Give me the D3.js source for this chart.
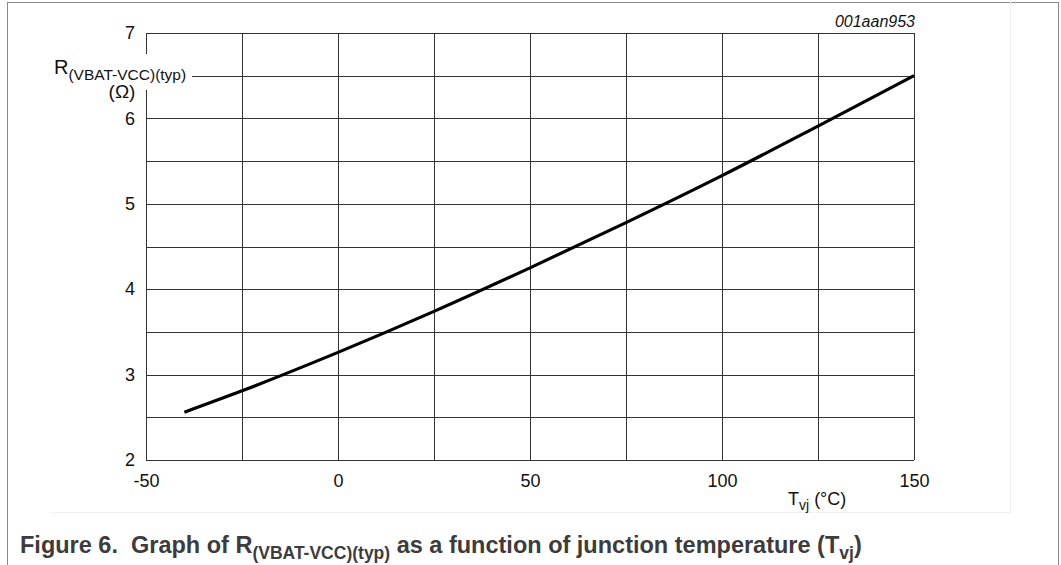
<!DOCTYPE html>
<html>
<head>
<meta charset="utf-8">
<script src="https://cdn.jsdelivr.net/npm/d3@7"></script>
<style>
  body { margin: 0; background: #fff; }
  svg { display: block; font-family: "Liberation Sans", Arial, sans-serif; }
</style>
</head>
<body>
<svg width="1061" height="565"></svg>
<script>
// junction temperature (°C) and typical resistance (Ω)
const temps = [-40, -25, 0, 25, 50, 75, 100, 125, 150];
const resist = [2.56, 2.81, 3.26, 3.74, 4.25, 4.78, 5.33, 5.91, 6.5];

const xTicks = [-50, 0, 50, 100, 150];
const yTicks = [2, 3, 4, 5, 6, 7];
const xGrid = d3.range(-50, 151, 25);
const yGrid = d3.range(2, 7.01, 0.5);

const svg = d3.select('svg');

// outer frame
svg.append('rect')
  .attr('x', 7.5).attr('y', 2.5)
  .attr('width', 1051).attr('height', 570)
  .attr('fill', 'none').attr('stroke', '#8a8a8a');

// faint edge of the figure image
svg.append('path')
  .attr('d', 'M50,512.5H1010.5V0')
  .attr('fill', 'none').attr('stroke', '#f1f1f1');

const x = d3.scaleLinear().domain([-50, 150]).range([146, 914]);
const y = d3.scaleLinear().domain([2, 7]).range([460, 33]);

const g = svg.append('g');

// grid lines
g.selectAll('line.v')
  .data(xGrid)
  .enter()
  .append('line')
  .attr('class', 'v')
  .attr('x1', (d) => Math.round(x(d)) + 0.5)
  .attr('x2', (d) => Math.round(x(d)) + 0.5)
  .attr('y1', y(7))
  .attr('y2', y(2))
  .attr('stroke', '#333');

g.selectAll('line.h')
  .data(yGrid)
  .enter()
  .append('line')
  .attr('class', 'h')
  .attr('x1', x(-50))
  .attr('x2', x(150))
  .attr('y1', (d) => Math.round(y(d)) + 0.5)
  .attr('y2', (d) => Math.round(y(d)) + 0.5)
  .attr('stroke', '#333');

// tick labels through axes
const xAxis = g.append('g')
  .attr('transform', `translate(0,${y(2)})`)
  .call(d3.axisBottom(x).tickValues(xTicks).tickSize(0).tickPadding(14).tickFormat((d) => String(d)));
const yAxis = g.append('g')
  .attr('transform', `translate(${x(-50)},0)`)
  .call(d3.axisLeft(y).tickValues(yTicks).tickSize(0).tickPadding(11).tickFormat((d) => String(d)));

[xAxis, yAxis].forEach((a) => {
  a.select('.domain').remove();
  a.selectAll('text')
    .attr('font-family', '"Liberation Sans", Arial, sans-serif')
    .attr('font-size', 18)
    .attr('fill', '#111');
});

// the curve
const line = d3.line()
  .x((d, i) => x(temps[i]))
  .y((d) => y(d))
  .curve(d3.curveMonotoneX);

g.append('path')
  .datum(resist)
  .attr('d', line)
  .attr('fill', 'none')
  .attr('stroke', '#000')
  .attr('stroke-width', 3.2);

// y axis title with white patch over grid
svg.append('rect')
  .attr('x', 50).attr('y', 54)
  .attr('width', 142).attr('height', 36)
  .attr('fill', '#fff');

const yt = svg.append('text')
  .attr('x', 54).attr('y', 74)
  .attr('font-size', 20)
  .attr('fill', '#111');
yt.append('tspan').text('R');
yt.append('tspan').attr('dy', 6).attr('font-size', 15.5).text('(VBAT-VCC)(typ)');

svg.append('text')
  .attr('x', 122).attr('y', 98)
  .attr('text-anchor', 'middle')
  .attr('font-size', 19)
  .attr('fill', '#111')
  .text('(Ω)');

// x axis title
const xt = svg.append('text')
  .attr('x', 788).attr('y', 505)
  .attr('font-size', 18)
  .attr('fill', '#111');
xt.append('tspan').text('T');
xt.append('tspan').attr('dy', 5).attr('font-size', 14).text('vj');
xt.append('tspan').attr('dy', -5).text(' (°C)');

// drawing code
svg.append('text')
  .attr('x', 915).attr('y', 27)
  .attr('text-anchor', 'end')
  .attr('font-size', 16)
  .attr('font-style', 'italic')
  .attr('fill', '#111')
  .text('001aan953');

// caption
const cap = svg.append('text')
  .attr('x', 20).attr('y', 553)
  .attr('font-size', 23.5)
  .attr('font-weight', 'bold')
  .attr('fill', '#3c3c3c')
  .style('white-space', 'pre');
cap.append('tspan').text('Figure 6.  Graph of R');
cap.append('tspan').attr('dy', 6).attr('font-size', 17.5).text('(VBAT-VCC)(typ)');
cap.append('tspan').attr('dy', -6).text(' as a function of junction temperature (T');
cap.append('tspan').attr('dy', 6).attr('font-size', 17.5).text('vj');
cap.append('tspan').attr('dy', -6).text(')');
</script>
</body>
</html>
